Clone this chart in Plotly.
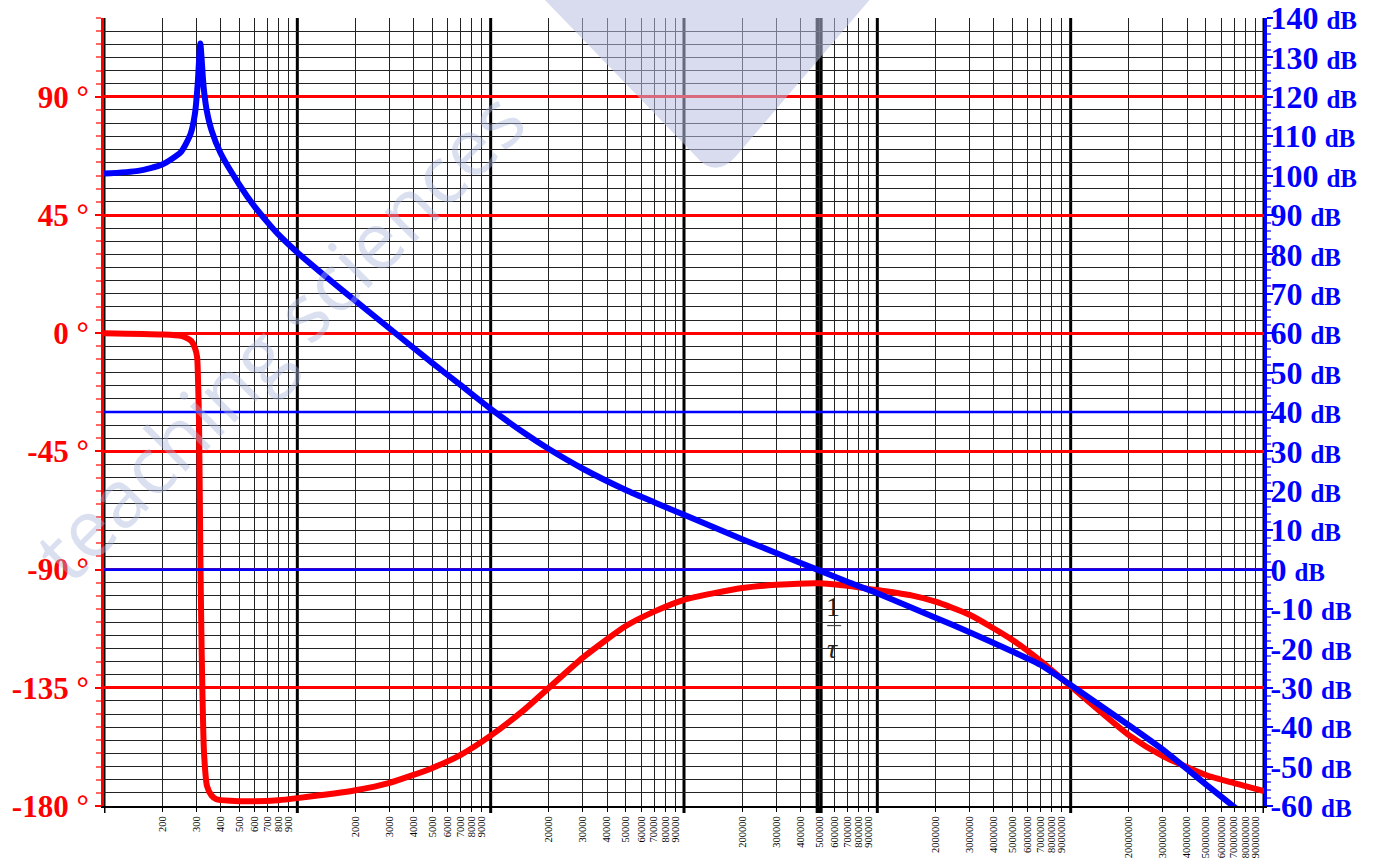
import plotly.graph_objects as go

# ---------------- data ----------------
FREQ_MAG = [100, 150, 200, 250, 280, 295, 305, 310, 315, 320, 325, 330, 340, 360, 400,
            500, 600, 700, 800, 1000, 1500, 2000, 3000, 5000, 7000, 1e4, 1.5e4, 2e4,
            3e4, 5e4, 7e4, 1e5, 2e5, 3e5, 5e5, 7e5, 1e6, 2e6, 3e6, 5e6, 7e6, 1e7,
            2e7, 3e7, 5e7, 7e7, 1e8]
MAG_DB = [100.5, 101.2, 102.8, 106, 110.5, 115.5, 123, 129, 133.5, 129.5, 124.5, 121,
          116.5, 111.5, 105.8, 97.8, 92.2, 88.2, 85, 80.5, 73.2, 68.2, 61.2, 52.4, 46.8,
          40.8, 34.6, 30.6, 25.6, 20.2, 17.1, 13.9, 7.7, 4.2, -0.2, -3.1, -6, -12.2,
          -15.9, -20.8, -24.2, -29.3, -39.5, -45.7, -54.5, -60.2, -66]

FREQ_PH = [100, 200, 250, 270, 283, 295, 303, 307, 310, 315, 320, 329, 341, 360, 381,
           450, 600, 800, 1000, 2000, 3000, 5000, 7000, 1e4, 1.5e4, 2e4, 3e4, 5e4,
           7e4, 1e5, 2e5, 3e5, 5e5, 7e5, 1e6, 1.5e6, 2e6, 3e6, 5e6, 7e6, 1e7, 2e7,
           3e7, 5e7, 7e7, 1e8]
PHASE_DEG = [0, -0.5, -1, -2, -3, -5.5, -9, -20, -33, -84, -121, -159.5, -172.4, -176,
             -177.4, -178, -178.2, -177.8, -177, -174, -171.2, -165.5, -160.5, -153.2,
             -143.2, -135, -123.5, -111.5, -106, -101.5, -97, -95.8, -95.2, -96.2, -97.8,
             -99.8, -102.2, -107.2, -116.8, -124.8, -134.4, -153, -161, -168.2, -171.3, -174.3]

DECADES = [1e2, 1e3, 1e4, 1e5, 1e6, 1e7, 1e8]
MANTISSAS = [2, 3, 4, 5, 6, 7, 8, 9]
X_TICKS = [m * d for d in DECADES[:-1] for m in MANTISSAS]
X_LABELS = [str(int(v)) for v in X_TICKS]

PHASE_TICKS = [-180, -135, -90, -45, 0, 45, 90]
PHASE_LABELS = [f"{v} °" for v in PHASE_TICKS]
DB_TICKS = list(range(-60, 141, 10))
DB_LABELS = [f"{v} <span style='font-size:25px'>dB</span>" for v in DB_TICKS]
REF_DB = [0, 40]
TAU_FREQ = 5e5
X_RANGE = [DECADES[0], DECADES[-1]]

SERIF = "Liberation Serif"

fig = go.Figure()
# blue reference lines (0 dB and 40 dB) drawn as traces so they sit above the grid
for v in REF_DB:
    fig.add_trace(go.Scatter(x=X_RANGE, y=[v, v], yaxis="y2", mode="lines",
                             line=dict(color="#0000ff", width=2.6), hoverinfo="skip"))
fig.add_trace(go.Scatter(x=FREQ_PH, y=PHASE_DEG, yaxis="y", mode="lines",
                         line=dict(color="#ff0000", width=6, shape="spline", smoothing=0.6),
                         hoverinfo="skip"))
fig.add_trace(go.Scatter(x=FREQ_MAG, y=MAG_DB, yaxis="y2", mode="lines",
                         line=dict(color="#0000ff", width=6, shape="spline", smoothing=0.6),
                         hoverinfo="skip"))

shapes = []
for d in DECADES:
    shapes.append(dict(type="line", xref="x", yref="paper", x0=d, x1=d, y0=-0.009, y1=1,
                       line=dict(color="black", width=3), layer="between"))
shapes.append(dict(type="line", xref="x", yref="paper", x0=TAU_FREQ, x1=TAU_FREQ,
                   y0=-0.009, y1=1, line=dict(color="black", width=7), layer="between"))
# fraction bar of 1/tau
shapes.append(dict(type="line", xref="x", yref="y2", x0=5.5e5, x1=6.5e5, y0=-14.2, y1=-14.2,
                   line=dict(color="#444", width=1.2), layer="above"))
# watermark logo fragment
shapes.append(dict(type="path", xref="paper", yref="paper",
                   path="M 0.380 1.023 L 0.660 1.023 L 0.545 0.825 Q 0.527 0.795 0.51 0.825 Z",
                   fillcolor="rgba(185,192,225,0.55)", line=dict(width=0), layer="above"))

annotations = [
    dict(text="1", xref="x", yref="y2", x=5.77, y=-9.4, showarrow=False,
         font=dict(family=SERIF, size=28, color="#222")),
    dict(text="<i>τ</i>", xref="x", yref="y2", x=5.77, y=-20.0, showarrow=False,
         font=dict(family=SERIF, size=28, color="#222")),
    dict(text="teaching sciences", xref="paper", yref="paper", x=0.15, y=0.598,
         xanchor="center", yanchor="middle",
         showarrow=False, textangle=-45,
         font=dict(family="Open Sans", size=80, color="rgba(170,180,220,0.42)")),
]

fig.update_layout(
    width=1383, height=861,
    margin=dict(l=104, r=119, t=18, b=55, autoexpand=False),
    plot_bgcolor="white", paper_bgcolor="white",
    showlegend=False,
    shapes=shapes, annotations=annotations,
    xaxis=dict(type="log", range=[2, 8], tickmode="array", tickvals=X_TICKS, ticktext=X_LABELS,
               tickangle=-90, tickfont=dict(family=SERIF, size=10.5, color="black"),
               showgrid=True, gridcolor="#222", gridwidth=1, automargin=False,
               ticks="outside", ticklen=4, tickcolor="black", tickwidth=1,
               showline=True, linecolor="black", linewidth=2, zeroline=False),
    yaxis=dict(range=[-180, 120], tickmode="array", tickvals=PHASE_TICKS, ticktext=PHASE_LABELS,
               tickfont=dict(family=SERIF, size=31, color="#ff0000", weight="bold"),
               showgrid=True, gridcolor="#ff0000", gridwidth=2.5, automargin=False,
               ticks="outside", ticklen=6, tickwidth=2, tickcolor="#ff0000",
               showline=True, linecolor="#ff0000", linewidth=3, zeroline=False,
               minor=dict(dtick=5, showgrid=True, gridcolor="#222", gridwidth=1,
                          ticks="outside", ticklen=5, tickcolor="#ff6666")),
    yaxis2=dict(range=[-60, 140], overlaying="y", side="right", tickmode="array",
                tickvals=DB_TICKS, ticktext=DB_LABELS, automargin=False,
                tickfont=dict(family=SERIF, size=32, color="#0000ff", weight="bold"),
                showgrid=False, ticks="outside", ticklen=6, tickwidth=2, tickcolor="#0000ff",
                ticklabelstandoff=-9,
                showline=True, linecolor="#0000ff", linewidth=3, zeroline=False,
                minor=dict(dtick=2, ticks="outside", ticklen=4, tickcolor="#6666ff",
                           showgrid=False)),
)

fig.write_html("out.html", config={"displayModeBar": False},
               post_script="document.body.style.margin='0';document.body.style.overflow='hidden';")
